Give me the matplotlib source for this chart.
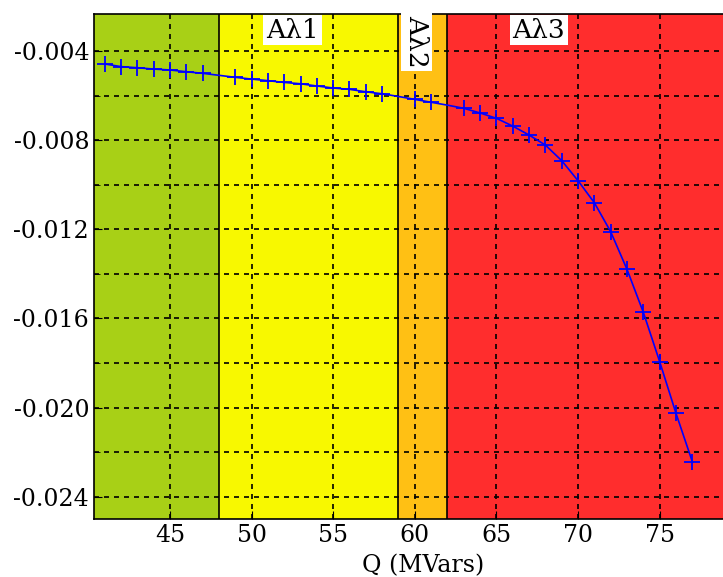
import numpy as np
from matplotlib import pyplot as plt
from matplotlib.ticker import MultipleLocator

# Data (Q in MVars, one point per integer Q)
Q = np.arange(41, 78, 1)
V = [-0.00458, -0.00470, -0.00475, -0.00481, -0.00485, -0.00493, -0.00500,
     -0.00509, -0.00518, -0.00526, -0.00533, -0.00541, -0.00547, -0.00557,
     -0.00566, -0.00572, -0.00583, -0.00592, -0.00604, -0.00617, -0.00630,
     -0.00643, -0.00657, -0.00678, -0.00702, -0.00737, -0.00777, -0.00822,
     -0.00892, -0.00982, -0.01081, -0.01211, -0.01380, -0.01573, -0.01794,
     -0.02026, -0.02243]

# Region bounds and labels
bounds = [40.35, 48, 59, 62, 80.65]
region_colors = ["#a8d016", "#f8f800", "#ffc014", "#ff2d2d"]
region_labels = ["Αλ1", "Αλ2", "Αλ3"]
label_x = [52.5, 60.1, 67.6]
no_marker = [48, 59, 62]
xticks = [45, 50, 55, 60, 65, 70, 75]

plt.rcParams['font.family'] = ['DejaVu Serif']
plt.rcParams['axes.unicode_minus'] = False

fig = plt.figure(figsize=(7.23, 5.77), dpi=100)
# axes run a bit past the right edge, as in the (cropped) reference
ax = fig.add_axes([0.130, 0.1005, 0.910, 0.8752])

for i in range(len(region_colors)):
    ax.axvspan(bounds[i], bounds[i+1], color=region_colors[i], zorder=0, lw=0)
for b in bounds[1:-1]:
    ax.axvline(b, color="black", lw=1.2, zorder=1)

marks = [i for i in range(len(Q)) if Q[i] not in no_marker]
ax.plot(Q, V, color="blue", lw=1.2, marker="+", markersize=11, mew=1.3,
        markevery=marks, zorder=3)

ax.set_xlim(bounds[0], bounds[-1])
ax.set_ylim(-0.0250, -0.00234)
ax.set_xticks(xticks)
ax.yaxis.set_major_locator(MultipleLocator(0.004))
ax.yaxis.set_minor_locator(MultipleLocator(0.002))
ax.yaxis.set_major_formatter(plt.FormatStrFormatter('%.3f'))
ax.grid(True, which="major", axis="x", color="black", ls=(0, (3, 3)), lw=1.2)
ax.grid(True, which="both", axis="y", color="black", ls=(0, (3, 3)), lw=1.2)
ax.tick_params(direction="in", labelsize=17, length=6)
ax.tick_params(which="minor", direction="in", length=4)
ax.set_xlabel("Q (MVars)", fontsize=17, labelpad=5)

box = dict(facecolor="white", edgecolor="none", pad=2)
ax.text(label_x[0], -0.00306, region_labels[0], fontsize=19, ha="center", va="center", bbox=box, zorder=4)
ax.text(label_x[1], -0.00358, region_labels[1], fontsize=19, ha="center", va="center", rotation=-90, bbox=box, zorder=4)
ax.text(label_x[2], -0.00306, region_labels[2], fontsize=19, ha="center", va="center", bbox=box, zorder=4)

for s in ax.spines.values():
    s.set_linewidth(1.2)

fig.savefig("out.png", dpi=100)
